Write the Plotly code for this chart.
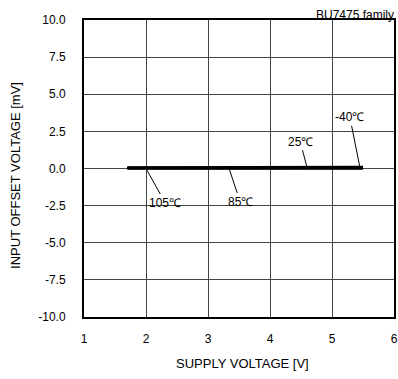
import plotly.graph_objects as go

# supply voltage [V]
vdd = [1.7, 2.0, 2.5, 3.0, 3.5, 4.0, 4.5, 5.0, 5.5]
# input offset voltage [mV] per temperature
vio_105 = [0.00, 0.00, 0.00, 0.00, 0.00, 0.00, 0.00, 0.00, 0.00]
vio_85 = [0.02, 0.02, 0.02, 0.02, 0.02, 0.02, 0.02, 0.02, 0.03]
vio_25 = [0.05, 0.05, 0.05, 0.05, 0.05, 0.05, 0.05, 0.05, 0.06]
vio_m40 = [0.07, 0.07, 0.07, 0.07, 0.07, 0.07, 0.07, 0.08, 0.10]

x_ticks = [1, 2, 3, 4, 5, 6]
y_ticks = [10, 7.5, 5, 2.5, 0, -2.5, -5, -7.5, -10]
y_ticktext = ["%.1f" % v for v in y_ticks]

series = [("105℃", vio_105), ("85℃", vio_85), ("25℃", vio_25), ("-40℃", vio_m40)]

FAM = "Liberation Sans, Arial, sans-serif"

fig = go.Figure()
for name, v in series:
    fig.add_trace(go.Scatter(x=vdd, y=v, mode="lines", name=name,
                             line=dict(color="black", width=2.5), showlegend=False))

font = dict(family=FAM, size=12, color="black")
title_font = dict(family=FAM, size=13, color="black")

# label, point x, point y, text offset
labels = [("105℃", 2.0, 0.0, 19, 34), ("85℃", 3.34, 0.0, 11, 33),
          ("25℃", 4.6, 0.05, -7, -26), ("-40℃", 5.45, 0.08, -10, -50)]
for txt, x, y, ax, ay in labels:
    fig.add_annotation(x=x, y=y, text=txt, showarrow=True, arrowhead=0, arrowwidth=1,
                       arrowcolor="black", ax=ax, ay=ay, font=font, standoff=0)

fig.add_annotation(x=1, y=1, xref="paper", yref="paper", yanchor="bottom", xanchor="right",
                   text="BU7475 family", showarrow=False, font=font, yshift=-4, xshift=2)

# axis titles placed as annotations for exact positioning
fig.add_annotation(x=0.51, y=0, xref="paper", yref="paper", yanchor="middle", xanchor="center",
                   text="SUPPLY VOLTAGE [V]", showarrow=False, font=title_font, yshift=-46)
fig.add_annotation(x=0, y=0.475, xref="paper", yref="paper", yanchor="middle", xanchor="center",
                   text="INPUT OFFSET VOLTAGE [mV]", showarrow=False, font=title_font,
                   textangle=-90, xshift=-68)

axis_common = dict(showgrid=True, gridcolor="#444", gridwidth=1, ticks="", zeroline=False,
                   showline=True, linecolor="black", linewidth=2, mirror=True, automargin=False,
                   tickfont=dict(family=FAM, size=12, color="black"))

fig.update_xaxes(range=[1, 6], tickvals=x_ticks, ticklabelstandoff=10, **axis_common)
fig.update_yaxes(range=[-10, 10], tickvals=y_ticks, ticktext=y_ticktext, ticklabelstandoff=14,
                 **axis_common)

fig.update_layout(width=398, height=379, margin=dict(l=84, r=4, t=20, b=62),
                  plot_bgcolor="white", paper_bgcolor="white")

# page body has a default margin; drop it so the figure sits at the corner
fig.write_html("out.html", config={"displayModeBar": False},
               post_script="document.body.style.margin='0';document.body.style.overflow='hidden';")
